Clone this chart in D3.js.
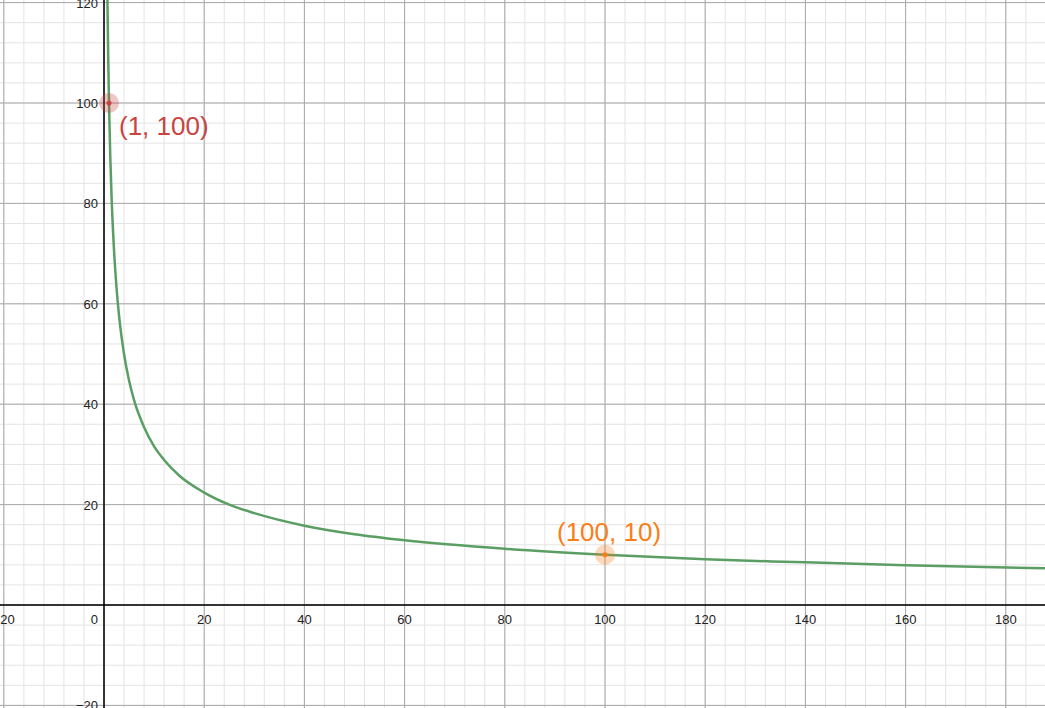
<!DOCTYPE html>
<html>
<head>
<meta charset="utf-8">
<script src="https://cdn.jsdelivr.net/npm/d3@7"></script>
<style>
  body { margin: 0; background: #fff; }
  svg { display: block; }
</style>
</head>
<body>
<svg id="chart"></svg>
<script>
// curve values
const curveX = [0.6, 0.7, 0.85, 1, 1.25, 1.5, 2, 2.5, 3, 4, 5, 6, 8, 10, 12, 15, 20, 25, 30, 40, 50, 60, 80, 100, 120, 140, 160, 188];
const curveY = [129, 119.5, 108.5, 100, 89.4, 81.6, 70.7, 63.2, 57.7, 50, 44.7, 40.8, 35.4, 31.6, 28.9, 25.8, 22.4, 20, 18.3, 15.8, 14.1, 12.9, 11.2, 10, 9.1, 8.5, 7.9, 7.3];
const pointsX = [1, 100];
const pointsY = [100, 10];
const pointLabels = ['(1, 100)', '(100, 10)'];
const pointColors = ['#c74440', '#fa7e19'];
const xTicks = [-20, 20, 40, 60, 80, 100, 120, 140, 160, 180];
const yTicks = [-20, 20, 40, 60, 80, 100, 120];

const width = 1045, height = 708;
const svg = d3.select('#chart').attr('width', width).attr('height', height);

const x = d3.scaleLinear().domain([0, 100]).range([104, 605]);
const y = d3.scaleLinear().domain([0, 100]).range([605, 103]);

const xMin = x.invert(0), xMax = x.invert(width);
const yMin = y.invert(height), yMax = y.invert(0);

// minor grid
const minorX = d3.range(Math.ceil(xMin / 4) * 4, xMax, 4);
const minorY = d3.range(Math.ceil(yMin / 4) * 4, yMax, 4);
svg.append('g').selectAll('line').data(minorX).enter().append('line')
  .attr('x1', d => x(d)).attr('x2', d => x(d)).attr('y1', 0).attr('y2', height)
  .attr('stroke', '#e4e4e4').attr('stroke-width', 1);
svg.append('g').selectAll('line').data(minorY).enter().append('line')
  .attr('y1', d => y(d)).attr('y2', d => y(d)).attr('x1', 0).attr('x2', width)
  .attr('stroke', '#e4e4e4').attr('stroke-width', 1);

// major grid
const majorX = d3.range(Math.ceil(xMin / 20) * 20, xMax, 20);
const majorY = d3.range(Math.ceil(yMin / 20) * 20, yMax, 20);
svg.append('g').selectAll('line').data(majorX).enter().append('line')
  .attr('x1', d => x(d)).attr('x2', d => x(d)).attr('y1', 0).attr('y2', height)
  .attr('stroke', '#a8a8a8').attr('stroke-width', 1);
svg.append('g').selectAll('line').data(majorY).enter().append('line')
  .attr('y1', d => y(d)).attr('y2', d => y(d)).attr('x1', 0).attr('x2', width)
  .attr('stroke', '#a8a8a8').attr('stroke-width', 1);

// axes
svg.append('line').attr('x1', 0).attr('x2', width).attr('y1', y(0)).attr('y2', y(0))
  .attr('stroke', '#000').attr('stroke-width', 1.5);
svg.append('line').attr('x1', x(0)).attr('x2', x(0)).attr('y1', 0).attr('y2', height)
  .attr('stroke', '#000').attr('stroke-width', 1.5);

const font = '"Helvetica", "Liberation Sans", Arial, sans-serif';
svg.append('g').selectAll('text').data(xTicks).enter().append('text')
  .attr('x', d => x(d)).attr('y', y(0) + 19)
  .attr('text-anchor', 'middle').style('font-family', font).style('font-size', '13px')
  .attr('fill', '#222').text(d => d < 0 ? '\u2212' + Math.abs(d) : d);
svg.append('text').attr('x', x(0) - 6).attr('y', y(0) + 19)
  .attr('text-anchor', 'end').style('font-family', font).style('font-size', '13px')
  .attr('fill', '#222').text('0');
svg.append('g').selectAll('text').data(yTicks).enter().append('text')
  .attr('x', x(0) - 6).attr('y', d => y(d) + 5)
  .attr('text-anchor', 'end').style('font-family', font).style('font-size', '13px')
  .attr('fill', '#222').text(d => d < 0 ? '\u2212' + Math.abs(d) : d);

// curve
const line = d3.line().x(d => x(d[0])).y(d => y(d[1])).curve(d3.curveMonotoneX);
svg.append('path').datum(curveX.map((v, i) => [v, curveY[i]]))
  .attr('d', line).attr('fill', 'none').attr('stroke', '#5a9e63').attr('stroke-width', 2.5);

// points
const pts = pointsX.map((v, i) => ({ x: v, y: pointsY[i], label: pointLabels[i], color: pointColors[i] }));
const g = svg.append('g').selectAll('g').data(pts).enter().append('g');
g.append('circle').attr('cx', d => x(d.x)).attr('cy', d => y(d.y)).attr('r', 10)
  .attr('fill', d => d.color).attr('opacity', 0.3);
g.append('circle').attr('cx', d => x(d.x)).attr('cy', d => y(d.y)).attr('r', 2.5)
  .attr('fill', d => d.color);
g.append('text')
  .attr('x', (d, i) => i === 0 ? x(d.x) + 10 : x(d.x) - 48)
  .attr('y', (d, i) => i === 0 ? y(d.y) + 32 : y(d.y) - 14)
  .style('font-family', font).style('font-size', '26px')
  .attr('fill', d => d.color).text(d => d.label);
</script>
</body>
</html>
